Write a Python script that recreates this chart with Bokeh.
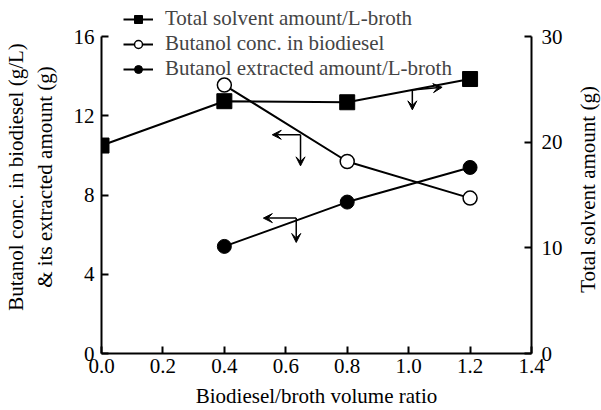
import math
from bokeh.plotting import figure
from bokeh.layouts import row
from bokeh.core.properties import value
from bokeh.models import Range1d, LinearAxis, FixedTicker, Legend, LegendItem, Arrow, VeeHead, NumeralTickFormatter
from bokeh.embed import file_html
from bokeh.resources import INLINE

# data
ratio_total = [0.0, 0.4, 0.8, 1.2]
total_solvent = [19.7, 23.9, 23.8, 26.0]
ratio_but = [0.4, 0.8, 1.2]
butanol_conc = [13.56, 9.7, 7.85]
butanol_extracted = [5.41, 7.65, 9.4]

x_ticks = [0.0, 0.2, 0.4, 0.6, 0.8, 1.0, 1.2, 1.4]
left_ticks = [0, 4, 8, 12, 16]
right_ticks = [0, 10, 20, 30]

# annotation arrows (data coords, left axis scale)
arrow_x0 = [1.012, 1.012, 0.648, 0.648, 0.634, 0.634]
arrow_y0 = [13.31, 13.31, 11.05, 11.05, 6.84, 6.84]
arrow_x1 = [1.109, 1.012, 0.556, 0.648, 0.527, 0.634]
arrow_y1 = [13.45, 12.31, 11.05, 9.48, 6.84, 5.61]

FONT = "Liberation Serif"
FS = "21px"

# frame spans full height above x axis; axis lines bounded to the data ranges
LEFT_MAX = 16
RIGHT_MAX = 30
TOP_EXTRA = 353.0 / 316.7

p = figure(width=565, height=410, output_backend="svg", toolbar_location=None,
           x_range=Range1d(0, 1.4), y_range=Range1d(0, LEFT_MAX * TOP_EXTRA),
           min_border_left=101, min_border_right=34, min_border_top=0, min_border_bottom=57)
p.extra_y_ranges = {"right": Range1d(0, RIGHT_MAX * TOP_EXTRA)}
p.grid.visible = False
p.outline_line_color = None

for ax in [p.xaxis[0], p.yaxis[0]]:
    ax.major_tick_in = 7
    ax.major_tick_out = 0
    ax.minor_tick_line_color = None
    ax.axis_line_width = 2
    ax.major_tick_line_width = 2
    ax.axis_line_color = "black"
    ax.major_tick_line_color = "black"
    ax.major_label_text_font = FONT
    ax.major_label_text_font_size = FS
    ax.major_label_text_color = "black"
    ax.axis_label_text_font = FONT
    ax.axis_label_text_font_size = FS
    ax.axis_label_text_font_style = "normal"
    ax.axis_label_text_color = "black"

p.xaxis[0].ticker = FixedTicker(ticks=x_ticks)
p.xaxis[0].formatter = NumeralTickFormatter(format="0.0")
p.xaxis[0].axis_label = "Biodiesel/broth volume ratio"
p.xaxis[0].major_label_standoff = 5
p.xaxis[0].axis_label_standoff = 8
p.yaxis[0].ticker = FixedTicker(ticks=left_ticks)
p.yaxis[0].bounds = (0, LEFT_MAX)
p.yaxis[0].axis_label = "Butanol conc. in biodiesel (g/L)\n& its extracted amount (g)"
p.yaxis[0].major_label_standoff = 7
p.yaxis[0].axis_label_standoff = 14

ra = LinearAxis(y_range_name="right", ticker=FixedTicker(ticks=right_ticks), bounds=(0, RIGHT_MAX))
ra.major_tick_in = 7
ra.major_tick_out = 0
ra.minor_tick_line_color = None
ra.axis_line_width = 2
ra.major_tick_line_width = 2
ra.major_label_text_font = FONT
ra.major_label_text_font_size = FS
ra.major_label_text_color = "black"
ra.major_label_standoff = 10
p.add_layout(ra, "right")

l1 = p.line(ratio_total, total_solvent, y_range_name="right", line_color="black", line_width=2)
s1 = p.scatter(ratio_total, total_solvent, y_range_name="right", marker="square", size=15,
               fill_color="black", line_color="black")
l2 = p.line(ratio_but, butanol_conc, line_color="black", line_width=2)
s2 = p.scatter(ratio_but, butanol_conc, marker="circle", size=14, fill_color="white",
               line_color="black", line_width=1.5)
l3 = p.line(ratio_but, butanol_extracted, line_color="black", line_width=2)
s3 = p.scatter(ratio_but, butanol_extracted, marker="circle", size=14, fill_color="black",
               line_color="black")

for x0, y0, x1, y1 in zip(arrow_x0, arrow_y0, arrow_x1, arrow_y1):
    p.add_layout(Arrow(x_start=x0, y_start=y0, x_end=x1, y_end=y1, line_width=1.5,
                       end=VeeHead(size=9, line_color="black", fill_color="black", line_width=1)))

legend = Legend(items=[
    LegendItem(label="Total solvent amount/L-broth", renderers=[l1, s1]),
    LegendItem(label="Butanol conc. in biodiesel", renderers=[l2, s2]),
    LegendItem(label="Butanol extracted amount/L-broth", renderers=[l3, s3]),
], location=(22, 272), label_text_font=FONT, label_text_font_size=FS, glyph_width=30,
    glyph_height=20, label_height=20, spacing=0, padding=0, margin=0, border_line_color=None,
    background_fill_alpha=0, label_standoff=12)
p.add_layout(legend, "center")

# narrow companion panel (pixel-scaled) carrying the right-hand axis title, reading bottom-to-top
p2 = figure(width=36, height=410, output_backend="svg", toolbar_location=None,
            x_range=Range1d(0, 36), y_range=Range1d(0, 353),
            x_axis_location=None, y_axis_location=None,
            min_border_left=0, min_border_right=0, min_border_top=0, min_border_bottom=57)
p2.grid.visible = False
p2.outline_line_color = None
p2.text(x=[22], y=[353 - 189], text=["Total solvent amount (g)"], angle=math.pi / 2,
        text_align="center", text_baseline="middle", text_font=value(FONT),
        text_font_size=value(FS), text_color="black")

layout = row(p, p2, spacing=0)
open("out.html", "w").write(file_html(layout, INLINE))
